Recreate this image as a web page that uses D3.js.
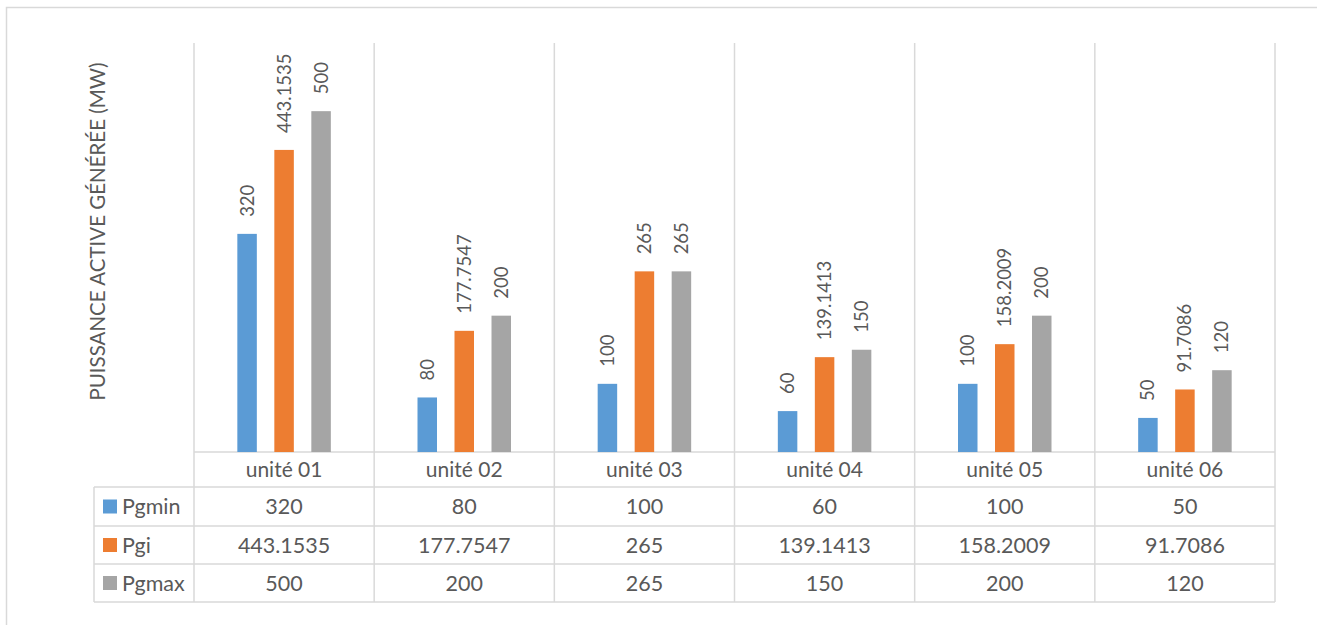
<!DOCTYPE html>
<html>
<head>
<meta charset="utf-8">
<script src="https://cdn.jsdelivr.net/npm/d3@7"></script>
<style>
  html, body { margin: 0; padding: 0; background: #fff; }
  svg { display: block; }
  text { font-family: Lato, "Open Sans", sans-serif; fill: #595959; }
</style>
</head>
<body>
<svg id="chart" width="1317" height="625"></svg>
<script>
const categories = ["unité 01", "unité 02", "unité 03", "unité 04", "unité 05", "unité 06"];
const seriesNames = ["Pgmin", "Pgi", "Pgmax"];
const pgmin = [320, 80, 100, 60, 100, 50];
const pgi = [443.1535, 177.7547, 265, 139.1413, 158.2009, 91.7086];
const pgmax = [500, 200, 265, 150, 200, 120];
const seriesColors = ["#5b9bd5", "#ed7d31", "#a5a5a5"];
const yMax = 600;
const yTitle = "PUISSANCE ACTIVE GÉNÉRÉE (MW)";

const seriesValues = [pgmin, pgi, pgmax];
const grid = "#d9d9d9";

const svg = d3.select("#chart");

// outer frame
svg.append("rect").attr("x", 6.5).attr("y", 7.5).attr("width", 1320).attr("height", 640)
  .attr("fill", "none").attr("stroke", grid).attr("stroke-width", 1.5);

const plotLeft = 194, plotRight = 1275, plotTop = 43, plotBottom = 452;
const tableLeft = 94;
const rowEdges = [452, 487, 526, 564, 602];

const x0 = d3.scaleBand().domain(categories).range([plotLeft, plotRight]).paddingInner(0).paddingOuter(0);
const x1 = d3.scaleBand().domain(seriesNames).range([-55.5, 55.5]).paddingInner(0.473).paddingOuter(0.2365);
const y = d3.scaleLinear().domain([0, yMax]).range([plotBottom, plotTop]);

// vertical gridlines (category separators)
const edges = categories.map(c => x0(c)).concat([plotRight]);
svg.append("g").selectAll("line").data(edges).join("line")
  .attr("x1", d => d).attr("x2", d => d)
  .attr("y1", plotTop).attr("y2", rowEdges[rowEdges.length - 1])
  .attr("stroke", grid).attr("stroke-width", 1.5);

// table left border
svg.append("line").attr("x1", tableLeft).attr("x2", tableLeft)
  .attr("y1", rowEdges[1]).attr("y2", rowEdges[4]).attr("stroke", grid).attr("stroke-width", 1.5);

// horizontal table lines
svg.append("g").selectAll("line").data(rowEdges).join("line")
  .attr("x1", (d, i) => i === 0 ? plotLeft : tableLeft).attr("x2", plotRight)
  .attr("y1", d => d).attr("y2", d => d)
  .attr("stroke", grid).attr("stroke-width", 1.5);

// bars
const groups = svg.append("g").selectAll("g").data(categories).join("g")
  .attr("transform", c => `translate(${x0(c) + x0.bandwidth() / 2},0)`);

seriesNames.forEach((s, si) => {
  groups.append("rect")
    .attr("x", (c, ci) => x1(s))
    .attr("y", (c, ci) => y(seriesValues[si][ci]))
    .attr("width", x1.bandwidth())
    .attr("height", (c, ci) => y(0) - y(seriesValues[si][ci]))
    .attr("fill", seriesColors[si]);
  groups.append("text")
    .attr("transform", (c, ci) => `translate(${x1(s) + x1.bandwidth() / 2},${y(seriesValues[si][ci]) - 17}) rotate(-90)`)
    .attr("dy", "0.35em")
    .attr("text-anchor", "start")
    .style("font-size", "18.5px")
    .text((c, ci) => seriesValues[si][ci]);
});

// category labels (table header)
svg.append("g").selectAll("text").data(categories).join("text")
  .attr("x", c => x0(c) + x0.bandwidth() / 2)
  .attr("y", (rowEdges[0] + rowEdges[1]) / 2)
  .attr("dy", "0.35em")
  .attr("text-anchor", "middle")
  .style("font-size", "21px")
  .text(c => c);

// table rows
seriesNames.forEach((s, si) => {
  const cy = (rowEdges[si + 1] + rowEdges[si + 2]) / 2;
  svg.append("rect").attr("x", 103).attr("y", cy - 7).attr("width", 14).attr("height", 14)
    .attr("fill", seriesColors[si]);
  svg.append("text").attr("x", 122).attr("y", cy).attr("dy", "0.35em")
    .style("font-size", "21.5px").text(s);
  svg.append("g").selectAll("text").data(categories).join("text")
    .attr("x", c => x0(c) + x0.bandwidth() / 2)
    .attr("y", cy).attr("dy", "0.35em")
    .attr("text-anchor", "middle")
    .style("font-size", "21.5px")
    .text((c, ci) => seriesValues[si][ci]);
});

// y axis title
svg.append("text")
  .attr("transform", `translate(98,231.5) rotate(-90)`)
  .attr("dy", "0.35em")
  .attr("text-anchor", "middle")
  .style("font-size", "20.5px")
  .text(yTitle);
</script>
</body>
</html>
